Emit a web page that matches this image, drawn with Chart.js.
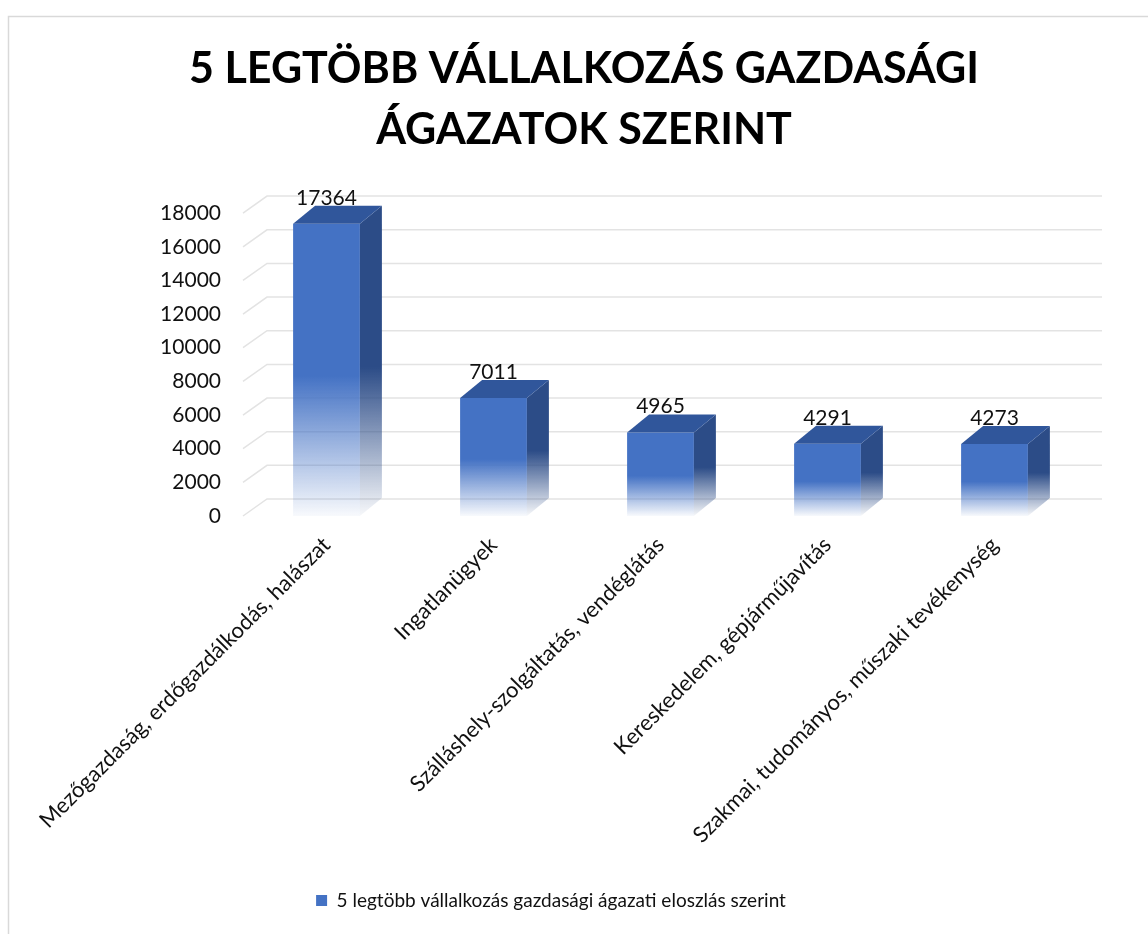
<!DOCTYPE html>
<html>
<head>
<meta charset="utf-8">
<script src="https://cdn.jsdelivr.net/npm/chart.js@4"></script>
<style>
  body { margin: 0; background: #fff; }
  #wrap { width: 1148px; height: 934px; }
</style>
</head>
<body>
<div id="wrap"><canvas id="chart-1" width="1148" height="934"></canvas></div>
<script>
const categories = [
  "Mezőgazdaság, erdőgazdálkodás, halászat",
  "Ingatlanügyek",
  "Szálláshely-szolgáltatás, vendéglátás",
  "Kereskedelem, gépjárműjavítás",
  "Szakmai, tudományos, műszaki tevékenység",
];
const counts = [17364, 7011, 4965, 4291, 4273];
const seriesName = "5 legtöbb vállalkozás gazdasági ágazati eloszlás szerint";
const titleLines = ["5 LEGTÖBB VÁLLALKOZÁS GAZDASÁGI", "ÁGAZATOK SZERINT"];

const BLUE = "#4472C4";
const TOP_FACE = "#30569B";
const SIDE_FACE = "#2C4C87";
const DEPTH_X = 22;
const DEPTH_Y = -18;
const PAD_BOTTOM = 14;

const canvas1 = document.querySelector("#chart-1");
const ctx1 = canvas1.getContext("2d");

// vertical fade of a bar: solid on the upper half, fading out to the floor
function fade(ctx, top, base, color, rgb) {
  const g = ctx.createLinearGradient(0, top, 0, base);
  g.addColorStop(0, color);
  g.addColorStop(0.52, color);
  g.addColorStop(1, "rgba(" + rgb + ",0.04)");
  return g;
}

const frame = {
  id: "frame",
  beforeDraw(chart) {
    const ctx = chart.ctx;
    ctx.save();
    ctx.strokeStyle = "#d9d9d9";
    ctx.lineWidth = 1.5;
    ctx.strokeRect(8.5, 16.5, 1400, 1400);
    ctx.restore();
  },
  afterLayout(chart) {
    // legend sits a bit left of the title in the original
    chart.legend.left -= 33;
    chart.legend.right -= 33;
  },
  beforeDatasetsDraw(chart) {
    const { ctx, chartArea, scales } = chart;
    const gx = 24, gy = -17;
    ctx.save();
    ctx.strokeStyle = "#e3e3e3";
    ctx.lineWidth = 1.5;
    scales.y.ticks.forEach((t) => {
      const y = scales.y.getPixelForValue(t.value);
      ctx.beginPath();
      ctx.moveTo(chartArea.left, y);
      ctx.lineTo(chartArea.left + gx, y + gy);
      ctx.lineTo(chartArea.right + gx, y + gy);
      ctx.stroke();
    });
    ctx.restore();
  },
  afterDatasetsDraw(chart) {
    const ctx = chart.ctx;
    const meta = chart.getDatasetMeta(0);
    ctx.save();
    meta.data.forEach((bar, i) => {
      const l = bar.x - bar.width / 2;
      const r = bar.x + bar.width / 2;
      const top = bar.y;
      const base = bar.base;
      // side face
      ctx.fillStyle = fade(ctx, top + DEPTH_Y, base, SIDE_FACE, "44,76,135");
      ctx.beginPath();
      ctx.moveTo(r, top);
      ctx.lineTo(r + DEPTH_X, top + DEPTH_Y);
      ctx.lineTo(r + DEPTH_X, base + DEPTH_Y);
      ctx.lineTo(r, base);
      ctx.closePath();
      ctx.fill();
      // top face
      ctx.fillStyle = TOP_FACE;
      ctx.beginPath();
      ctx.moveTo(l, top);
      ctx.lineTo(l + DEPTH_X, top + DEPTH_Y);
      ctx.lineTo(r + DEPTH_X, top + DEPTH_Y);
      ctx.lineTo(r, top);
      ctx.closePath();
      ctx.fill();
      // value label
      ctx.fillStyle = "#111";
      ctx.font = "21px Lato";
      ctx.textAlign = "center";
      ctx.textBaseline = "alphabetic";
      ctx.fillText(String(counts[i]), bar.x, top + DEPTH_Y - 1);
    });
    ctx.restore();
  },
};

const barChart = new Chart(ctx1, {
  type: "bar",
  data: {
    labels: categories,
    datasets: [
      {
        label: seriesName,
        data: counts,
        backgroundColor: (c) => {
          const { ctx, chartArea, scales } = c.chart;
          if (!chartArea || c.type !== "data") return BLUE;
          const top = scales.y.getPixelForValue(c.raw);
          const base = scales.y.getPixelForValue(0);
          return fade(ctx, top, base, BLUE, "68,114,196");
        },
        borderWidth: 0,
        barPercentage: 0.4,
        categoryPercentage: 1,
      },
    ],
  },
  options: {
    responsive: false,
    animation: false,
    layout: { padding: { left: 90, right: 70, top: 0, bottom: PAD_BOTTOM } },
    plugins: {
      title: {
        display: true,
        text: titleLines,
        color: "#000",
        font: { family: "Lato", size: 43, weight: "bold", lineHeight: 1.42 },
        padding: { top: 39, bottom: 52 },
      },
      legend: {
        position: "bottom",
        labels: {
          color: "#111",
          font: { family: "Lato", size: 19 },
          boxWidth: 11,
          boxHeight: 11,
          padding: 10,
          generateLabels(chart) {
            const items = Chart.defaults.plugins.legend.labels.generateLabels(chart);
            items.forEach((it) => { it.fillStyle = BLUE; it.strokeStyle = BLUE; it.lineWidth = 0; });
            return items;
          },
        },
      },
      tooltip: { enabled: false },
    },
    scales: {
      x: {
        grid: { display: false, drawTicks: false },
        border: { display: false },
        ticks: {
          color: "#111",
          font: { family: "Lato", size: 22 },
          minRotation: 45,
          maxRotation: 45,
          autoSkip: false,
          padding: 16,
        },
        afterFit(scale) {
          const chart = scale.chart;
          scale.height = chart.height - PAD_BOTTOM - chart.legend.height - 516;
        },
      },
      y: {
        min: 0,
        max: 18000,
        grid: { display: false, drawTicks: false },
        border: { display: false },
        ticks: {
          stepSize: 2000,
          color: "#111",
          font: { family: "Lato", size: 21 },
          padding: 22,
          callback: (v) => String(v),
        },
        afterFit(scale) {
          scale.width = 153;
        },
      },
    },
  },
  plugins: [frame],
});
</script>
</body>
</html>
